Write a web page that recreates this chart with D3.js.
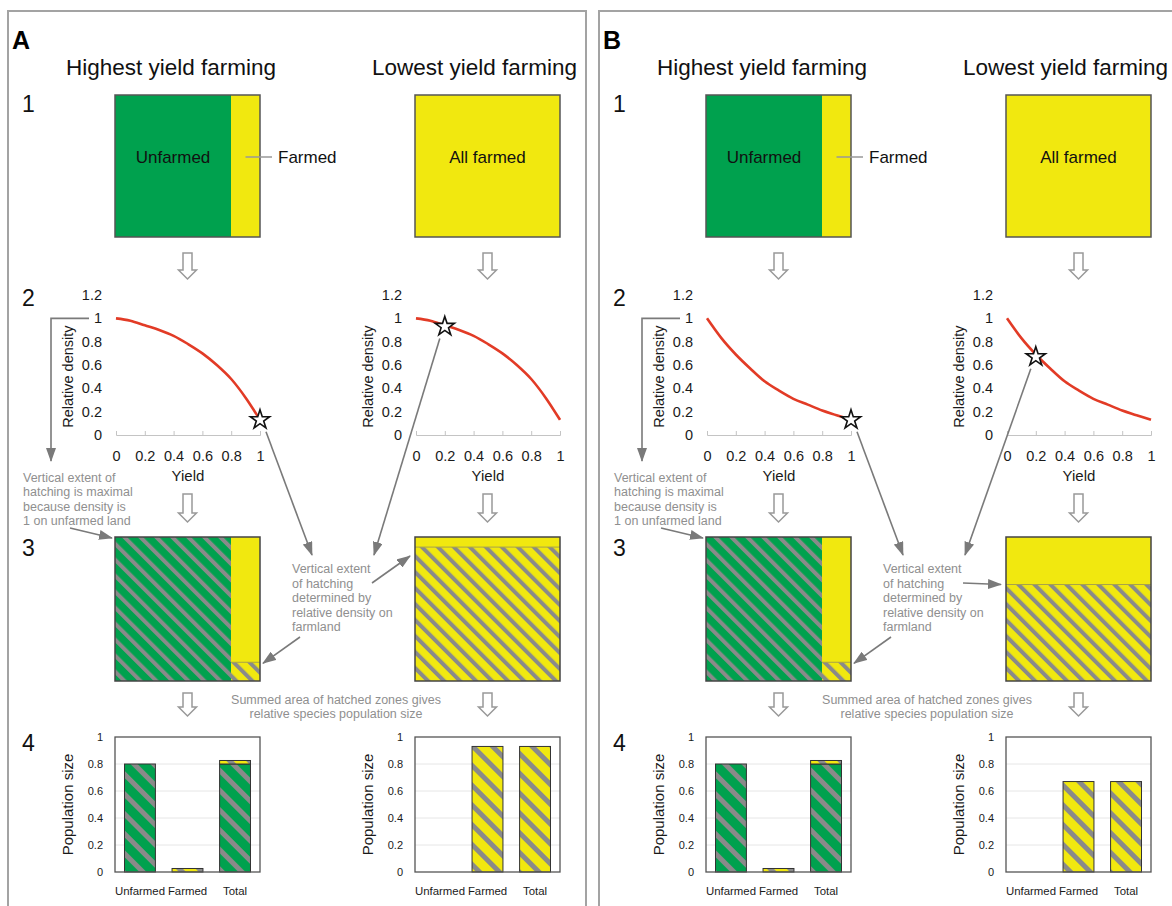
<!DOCTYPE html>
<meta charset="utf-8">
<style>
body { margin: 0; background: #fff; }
svg { display: block; font-family: "Liberation Sans", Arial, sans-serif; }
.note { fill: #8f8f8f; font-size: 12.5px; }
.axis text { fill: #1a1a1a; font-size: 14.5px; font-family: "Liberation Sans", Arial, sans-serif; }
.baraxis text { fill: #1a1a1a; font-size: 11px; font-family: "Liberation Sans", Arial, sans-serif; }
</style>
<svg width="1172" height="906"></svg>
<script src="https://cdn.jsdelivr.net/npm/d3@7"></script>
<script>

// values
var yieldTicks = [0, 0.2, 0.4, 0.6, 0.8, 1];
var densityTicks = [0, 0.2, 0.4, 0.6, 0.8, 1, 1.2];
var popTicks = [0, 0.2, 0.4, 0.6, 0.8, 1];
var yieldSteps = [0, 0.1, 0.2, 0.3, 0.4, 0.5, 0.6, 0.7, 0.8, 0.9, 1];
var densityA = [1, 0.98, 0.94, 0.9, 0.85, 0.78, 0.7, 0.6, 0.48, 0.32, 0.13];
var densityB = [1, 0.83, 0.69, 0.57, 0.46, 0.38, 0.31, 0.26, 0.21, 0.17, 0.13];
var farmedShare = [0.2, 1];          // highest, lowest yield farming
var unfarmedDensity = 1;
var starYield = [1, 0.2];
var starDensityA = [0.13, 0.93];
var starDensityB = [0.13, 0.67];
var categories = ["Unfarmed", "Farmed", "Total"];
var popHighUnfarmed = [0.8, 0, 0.8];
var popHighFarmed = [0, 0.026, 0.026];
var popLowUnfarmed = [0, 0, 0];
var popLowFarmedA = [0, 0.93, 0.93];
var popLowFarmedB = [0, 0.67, 0.67];
var titles = ["Highest yield farming", "Lowest yield farming"];

var green = "#00a14e", yellow = "#f1e80f", stripe = "#8a8a8a", grey = "#7a7a7a";
var fmt = d3.format("~g");

var svg = d3.select("svg");
var defs = svg.append("defs");

function hatch(id, bg, period, w) {
  var p = defs.append("pattern").attr("id", id)
      .attr("patternUnits", "userSpaceOnUse")
      .attr("width", period).attr("height", period)
      .attr("patternTransform", "rotate(-45)");
  p.append("rect").attr("width", period).attr("height", period).attr("fill", bg);
  p.append("rect").attr("width", w).attr("height", period).attr("fill", stripe);
}
hatch("hGreen", green, 11.3, 4);
hatch("hYellow", yellow, 11.3, 4);
hatch("bGreen", green, 14, 5);
hatch("bYellow", yellow, 14, 5);

defs.append("marker").attr("id", "head")
    .attr("viewBox", "0 0 14 10").attr("refX", 13).attr("refY", 5)
    .attr("markerWidth", 14).attr("markerHeight", 10)
    .attr("markerUnits", "userSpaceOnUse").attr("orient", "auto")
  .append("path").attr("d", "M0,0L14,5L0,10z").attr("fill", grey);

var colX = [115, 415], colW = 145;

function hollowArrow(g, cx, y0, y1) {
  var hw = 4.5, aw = 9, ah = 9;
  g.append("path")
      .attr("d", "M" + (cx - hw) + "," + y0 + "H" + (cx + hw) + "V" + (y1 - ah) + "H" + (cx + aw) +
        "L" + cx + "," + y1 + "L" + (cx - aw) + "," + (y1 - ah) + "H" + (cx - hw) + "Z")
      .attr("fill", "#fff").attr("stroke", "#999").attr("stroke-width", 1.5);
}

function arrow(g, pts) {
  g.append("path").attr("d", d3.line()(pts))
      .attr("fill", "none").attr("stroke", grey).attr("stroke-width", 1.6)
      .attr("marker-end", "url(#head)");
}

function noteLines(g, x, y0, step, lines, anchor) {
  var t = g.append("text").attr("class", "note").attr("text-anchor", anchor || "start");
  lines.forEach(function(s, i) {
    t.append("tspan").attr("x", x).attr("y", y0 + i * step).text(s);
  });
}

function drawPanel(ox, letter, curve, starDensity, popLowFarmed) {
  var g = svg.append("g").attr("transform", "translate(" + ox + ",0)");

  g.append("path").attr("d", "M8,906V11H586V906")
      .attr("fill", "none").attr("stroke", "#a3a3a3").attr("stroke-width", 2);
  g.append("text").attr("x", 12).attr("y", 49).attr("font-size", 25)
      .attr("font-weight", "bold").text(letter);

  g.selectAll(".title").data(titles).enter().append("text")
      .attr("x", function(d, i) { return i ? 372 : 66; }).attr("y", 75)
      .attr("font-size", 22.5).attr("fill", "#111").text(function(d) { return d; });

  g.selectAll(".step").data(["1", "2", "3", "4"]).enter().append("text")
      .attr("x", 22).attr("y", function(d, i) { return [112, 306, 556, 751][i]; })
      .attr("font-size", 23).attr("fill", "#111").text(function(d) { return d; });

  var popUnf = [popHighUnfarmed, popLowUnfarmed];
  var popFarm = [popHighFarmed, popLowFarmed];

  [0, 1].forEach(function(c) {
    var x0 = colX[c], mid = x0 + colW / 2;
    var share = farmedShare[c];

    // 1: land use square
    var sx = d3.scaleLinear([0, 1], [x0, x0 + colW]);
    g.append("rect").attr("x", sx(0)).attr("y", 95).attr("width", sx(1 - share) - sx(0))
        .attr("height", 142).attr("fill", green);
    g.append("rect").attr("x", sx(1 - share)).attr("y", 95).attr("width", sx(1) - sx(1 - share))
        .attr("height", 142).attr("fill", yellow);
    g.append("rect").attr("x", x0).attr("y", 95).attr("width", colW).attr("height", 142)
        .attr("fill", "none").attr("stroke", "#555").attr("stroke-width", 1.5);
    if (share < 1) {
      g.append("text").attr("x", (sx(0) + sx(1 - share)) / 2).attr("y", 163)
          .attr("text-anchor", "middle").attr("font-size", 17).attr("fill", "#111").text("Unfarmed");
      g.append("line").attr("x1", sx(1 - share / 2)).attr("x2", x0 + colW + 12)
          .attr("y1", 157).attr("y2", 157).attr("stroke", "#999").attr("stroke-width", 1.5);
      g.append("text").attr("x", x0 + colW + 18).attr("y", 163)
          .attr("font-size", 17).attr("fill", "#111").text("Farmed");
    } else {
      g.append("text").attr("x", mid).attr("y", 163).attr("text-anchor", "middle")
          .attr("font-size", 17).attr("fill", "#111").text("All farmed");
    }

    hollowArrow(g, mid, 253, 279);
    hollowArrow(g, mid, 494, 522);
    hollowArrow(g, mid, 693, 716);

    // 2: density-yield curve
    var cx = d3.scaleLinear([0, 1], [x0 + 1, x0 + colW]);
    var cy = d3.scaleLinear([0, 1.2], [435, 295]);
    var xa = g.append("g").attr("class", "axis").attr("transform", "translate(0," + cy(0) + ")")
        .call(d3.axisBottom(cx).tickValues(yieldTicks).tickSize(-4).tickPadding(16).tickFormat(fmt));
    xa.selectAll("line, path").attr("stroke", "#c4c4c4");
    var ya = g.append("g").attr("class", "axis").attr("transform", "translate(" + cx(0) + ",0)")
        .call(d3.axisLeft(cy).tickValues(densityTicks).tickSize(0).tickPadding(14).tickFormat(fmt));
    ya.select(".domain").remove();
    g.append("text").attr("x", (cx(0) + cx(1)) / 2).attr("y", 481).attr("text-anchor", "middle")
        .attr("font-size", 15).attr("fill", "#1a1a1a").text("Yield");
    g.append("text").attr("transform", "translate(" + (x0 - 42) + "," + cy(0.5) + ") rotate(-90)")
        .attr("text-anchor", "middle").attr("font-size", 14.5).attr("fill", "#1a1a1a").text("Relative density");
    g.append("path").datum(curve)
        .attr("d", d3.line().x(function(d, i) { return cx(yieldSteps[i]); }).y(function(d) { return cy(d); })
          .curve(d3.curveMonotoneX))
        .attr("fill", "none").attr("stroke", "#e23b26").attr("stroke-width", 2.6);
    var star = [cx(starYield[c]), cy(starDensity[c])];
    g.append("path").attr("d", d3.symbol(d3.symbolStar, 115)())
        .attr("transform", "translate(" + star + ")")
        .attr("fill", "#fff").attr("stroke", "#111").attr("stroke-width", 1.6);

    // 3: hatched square
    var sy = d3.scaleLinear([0, 1], [681, 537]);
    var fd = starDensity[c];
    if (share < 1) {
      g.append("rect").attr("x", sx(0)).attr("y", sy(unfarmedDensity))
          .attr("width", sx(1 - share) - sx(0)).attr("height", sy(0) - sy(unfarmedDensity))
          .attr("fill", "url(#hGreen)");
    }
    g.append("rect").attr("x", sx(1 - share)).attr("y", sy(1))
        .attr("width", sx(1) - sx(1 - share)).attr("height", sy(0) - sy(1)).attr("fill", yellow);
    g.append("rect").attr("x", sx(1 - share)).attr("y", sy(fd))
        .attr("width", sx(1) - sx(1 - share)).attr("height", sy(0) - sy(fd)).attr("fill", "url(#hYellow)");
    g.append("line").attr("x1", sx(1 - share)).attr("x2", sx(1)).attr("y1", sy(fd)).attr("y2", sy(fd))
        .attr("stroke", "#a8a24a").attr("stroke-width", 1);
    g.append("rect").attr("x", x0).attr("y", sy(1)).attr("width", colW).attr("height", sy(0) - sy(1))
        .attr("fill", "none").attr("stroke", "#444").attr("stroke-width", 1.5);

    if (c === 0) {
      arrow(g, [[star[0] + 6, star[1] + 12], [312, 555]]);
      arrow(g, [[300, 637], [x0 + colW + 3, sy(fd) + 1]]);
    } else {
      arrow(g, [[star[0] - 5, star[1] + 12], [374, 555]]);
      arrow(g, [[372, 583], [x0 - 5, Math.max(sy(fd), 556)]]);
    }

    // 4: population bars
    var bx = d3.scaleBand(categories, [x0, x0 + colW]).paddingInner(0.35).paddingOuter(0.2);
    var by = d3.scaleLinear([0, 1], [872, 737]);
    g.selectAll(null).data(popTicks.slice(1, -1)).enter().append("line")
        .attr("x1", x0).attr("x2", x0 + colW).attr("y1", by).attr("y2", by)
        .attr("stroke", "#e6e6e6");
    var ba = g.append("g").attr("class", "baraxis").attr("transform", "translate(" + x0 + ",0)")
        .call(d3.axisLeft(by).tickValues(popTicks).tickSize(0).tickPadding(12).tickFormat(fmt));
    ba.select(".domain").remove();
    var bc = g.append("g").attr("class", "baraxis").attr("transform", "translate(0," + by(0) + ")")
        .call(d3.axisBottom(bx).tickSize(0).tickPadding(15));
    bc.select(".domain").remove();
    bc.selectAll("text").style("font-size", "11.4px");
    g.append("text").attr("transform", "translate(" + (x0 - 42) + "," + by(0.5) + ") rotate(-90)")
        .attr("text-anchor", "middle").attr("font-size", 15).attr("fill", "#1a1a1a").text("Population size");

    categories.forEach(function(cat, i) {
      var u = popUnf[c][i], f = popFarm[c][i];
      if (u > 0) {
        g.append("rect").attr("x", bx(cat)).attr("y", by(u)).attr("width", bx.bandwidth())
            .attr("height", by(0) - by(u)).attr("fill", "url(#bGreen)")
            .attr("stroke", "#333").attr("stroke-width", 1);
      }
      if (f > 0) {
        g.append("rect").attr("x", bx(cat)).attr("y", by(u + f)).attr("width", bx.bandwidth())
            .attr("height", by(u) - by(u + f)).attr("fill", "url(#bYellow)")
            .attr("stroke", "#333").attr("stroke-width", 1);
      }
    });
    g.append("rect").attr("x", x0).attr("y", by(1)).attr("width", colW).attr("height", by(0) - by(1))
        .attr("fill", "none").attr("stroke", "#555").attr("stroke-width", 1.3);

    if (c === 0) {
      // bracket arrow from density 1 down to the note
      arrow(g, [[x0 - 26, cy(1)], [51, cy(1)], [51, 461]]);
    }
  });

  noteLines(g, 23, 482, 14.3, ["Vertical extent of", "hatching is maximal", "because density is", "1 on unfarmed land"]);
  arrow(g, [[70, 528], [112, 538]]);
  noteLines(g, 292, 573, 14.6, ["Vertical extent", "of hatching", "determined by", "relative density on", "farmland"]);
  noteLines(g, 336, 704, 13.5, ["Summed area of hatched zones gives", "relative species population size"], "middle");
}

drawPanel(0, "A", densityA, starDensityA, popLowFarmedA);
drawPanel(591, "B", densityB, starDensityB, popLowFarmedB);

</script>
